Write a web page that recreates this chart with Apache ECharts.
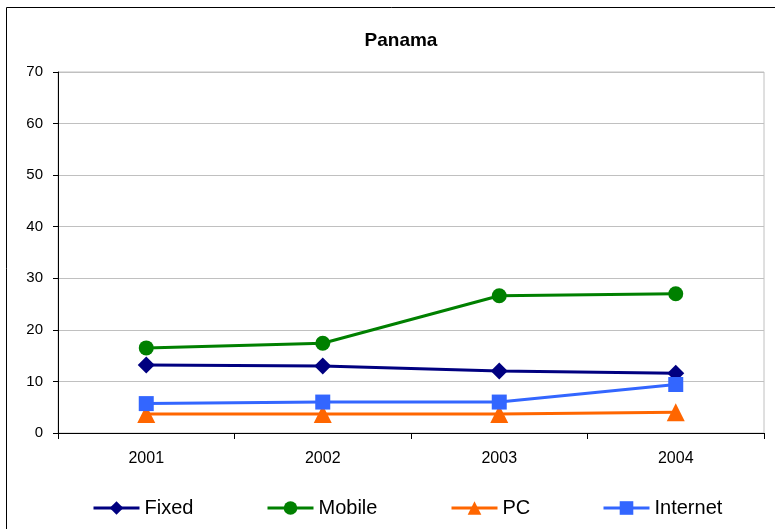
<!DOCTYPE html>
<html>
<head>
<meta charset="utf-8">
<script src="https://cdn.jsdelivr.net/npm/echarts@6/dist/echarts.min.js"></script>
<style>
  html, body { margin: 0; padding: 0; background: #fff; }
  #chart { width: 775px; height: 529px; }
</style>
</head>
<body>
<div id="chart"></div>
<script>
var years = ["2001", "2002", "2003", "2004"];
var fixed = [13.2, 13.0, 12.0, 11.6];
var mobile = [16.5, 17.4, 26.6, 27.0];
var pc = [3.7, 3.7, 3.7, 4.0];
var internet = [5.7, 6.0, 6.0, 9.4];

var chart = echarts.init(document.getElementById("chart"));
var font = "Liberation Sans, Arial, sans-serif";

function line(name, data, color, symbol, size) {
  return {
    name: name,
    type: "line",
    data: data,
    symbol: symbol,
    symbolSize: size,
    itemStyle: { color: color },
    lineStyle: { color: color, width: 3 },
    animation: false
  };
}

// one legend per item so each sits where it does in the original
function legendAt(name, left) {
  return {
    left: left,
    top: 498,
    padding: 0,
    itemWidth: 46,
    itemHeight: 17,
    lineStyle: { width: 3 },
    textStyle: { fontFamily: font, fontSize: 20, color: "#000" },
    data: [name]
  };
}

var option = {
  backgroundColor: "#fff",
  title: {
    text: "Panama",
    left: 396,
    textAlign: "center",
    top: 26,
    textStyle: { fontFamily: font, fontSize: 19, fontWeight: "bold", color: "#000" }
  },
  graphic: [{
    type: "rect",
    shape: { x: 6.5, y: 7.5, width: 820, height: 600 },
    style: { fill: "none", stroke: "#000", lineWidth: 1 }
  }],
  legend: [
    legendAt("Fixed", 92),
    legendAt("Mobile", 266),
    legendAt("PC", 450),
    legendAt("Internet", 602)
  ],
  grid: { left: 58, right: 11, top: 72, bottom: 96, show: true, borderColor: "#c0c0c0", borderWidth: 1 },
  xAxis: {
    type: "category",
    data: years,
    boundaryGap: true,
    axisLine: { lineStyle: { color: "#000", width: 1 } },
    axisTick: { show: true, length: 6, lineStyle: { color: "#000" } },
    axisLabel: { fontFamily: font, fontSize: 16, color: "#000", margin: 18 }
  },
  yAxis: {
    type: "value",
    min: 0,
    max: 70,
    interval: 10,
    axisLine: { show: true, lineStyle: { color: "#000", width: 1 } },
    axisTick: { show: true, length: 5, lineStyle: { color: "#000" } },
    axisLabel: { fontFamily: font, fontSize: 15, color: "#000", margin: 15 },
    splitLine: { lineStyle: { color: "#c0c0c0", width: 1 } }
  },
  series: [
    line("Fixed", fixed, "#000080", "diamond", 17),
    line("Mobile", mobile, "#008000", "circle", 15),
    line("PC", pc, "#FF6600", "triangle", 18),
    line("Internet", internet, "#3366FF", "rect", 15)
  ]
};

chart.setOption(option);
</script>
</body>
</html>
